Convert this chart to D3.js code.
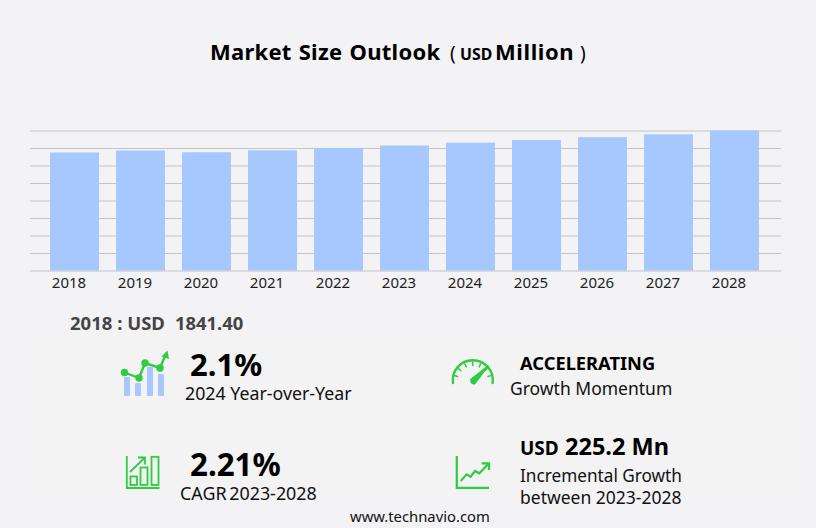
<!DOCTYPE html>
<html>

<head>
    <meta charset="UTF-8">
    <title>Market Size Outlook</title>
    <script src="https://cdn.jsdelivr.net/npm/d3@7"></script>
    <style>
        html, body { margin: 0; padding: 0; background: #f3f3f5; }
        svg { display: block; font-family: "Noto Sans", sans-serif; }
    </style>
</head>

<body>
    <script>
        const years = ['2018', '2019', '2020', '2021', '2022', '2023', '2024', '2025', '2026', '2027', '2028'];
        const marketSize = [1841.4, 1873, 1845, 1875, 1912, 1950, 1995, 2035, 2080, 2125, 2184];
        const gridTicks = [0, 273, 546, 819, 1092, 1365, 1638, 1911, 2184];

        const width = 816;
        const height = 528;
        const green = '#2ecc40';

        const svg = d3.select('body')
            .append('svg')
            .attr('width', width)
            .attr('height', height);

        const x = d3.scaleBand()
            .domain(years)
            .range([41.5, 767.5])
            .paddingInner(0.258)
            .paddingOuter(0.129);

        const y = d3.scaleLinear()
            .domain([0, 2184])
            .range([270.5, 130.5]);

        // gridlines
        const grid = svg.append('g')
            .attr('transform', 'translate(30,0)')
            .call(d3.axisLeft(y).tickValues(gridTicks).tickSize(-751).tickFormat(''));
        grid.select('.domain').remove();
        grid.selectAll('line').attr('stroke', '#c4c4c6').attr('stroke-width', 1);

        svg.append('g')
            .selectAll('rect')
            .data(years)
            .join('rect')
            .attr('x', d => x(d))
            .attr('y', (d, i) => y(marketSize[i]))
            .attr('width', x.bandwidth())
            .attr('height', (d, i) => y(0) - y(marketSize[i]))
            .attr('fill', '#a6c8ff');

        // year labels sit a little left of the bar centres
        const xAxis = svg.append('g')
            .attr('transform', 'translate(-5.5,270.5)')
            .call(d3.axisBottom(x).tickSize(0).tickPadding(7));
        xAxis.select('.domain').remove();
        xAxis.selectAll('text')
            .attr('font-family', '"Noto Sans", sans-serif')
            .attr('font-size', 15)
            .attr('fill', '#222');

        function label(txt, px, py, size, weight, fill, anchor) {
            return svg.append('text')
                .attr('x', px)
                .attr('y', py)
                .attr('font-size', size)
                .attr('font-weight', weight || 400)
                .attr('fill', fill || '#111')
                .attr('text-anchor', anchor || 'start')
                .text(txt);
        }

        // title
        label('Market Size Outlook', 210, 60, 22, 700, '#000').attr('letter-spacing', 0.25).attr('word-spacing', 1.2);
        label('(', 450, 60, 19, 400, '#000');
        label('USD', 460, 60, 15.8, 700, '#000');
        label('Million', 495, 60, 22, 700, '#000').attr('letter-spacing', 0.6);
        label(')', 580, 60, 19, 400, '#000');

        // lower panel
        svg.insert('rect', ':first-child')
            .attr('x', 30).attr('y', 330).attr('width', 762).attr('height', 165)
            .attr('fill', '#f3f3f3');

        label('2018 : USD', 70, 330, 18.5, 700, '#444');
        label('1841.40', 175, 330, 18.4, 700, '#444');

        label('2.1%', 190, 376, 31, 700, '#000');
        label('2024 Year-over-Year', 185, 400, 17.8);
        label('ACCELERATING', 520, 370, 18.3, 700, '#000');
        label('Growth Momentum', 510, 395, 17.5);
        label('2.21%', 190, 476, 31.3, 700, '#000');
        label('CAGR 2023-2028', 180, 500, 17.9).attr('word-spacing', -2);
        label('USD', 520, 455, 19, 700, '#000');
        label('225.2 Mn', 565, 455, 23.5, 700, '#000');
        label('Incremental Growth', 520, 482, 17.2);
        label('between 2023-2028', 520, 504, 17.5);
        label('www.technavio.com', 350, 522, 14.8, 400, '#111');

        // icon 1: small bars with a trend line
        const icon1 = svg.append('g');
        const miniBars = [[124, 377, 19], [135, 383, 13], [147, 367, 29], [158, 374, 22]];
        icon1.selectAll('rect').data(miniBars).join('rect')
            .attr('x', d => d[0]).attr('y', d => d[1])
            .attr('width', 6).attr('height', d => d[2])
            .attr('rx', 1).attr('fill', '#a6c8ff');
        const trend = [[124.5, 372.5], [139, 378], [145, 363], [160, 368], [165, 356]];
        icon1.append('path')
            .attr('d', d3.line()(trend))
            .attr('fill', 'none').attr('stroke', green).attr('stroke-width', 2.4);
        icon1.selectAll('circle').data(trend.slice(0, 4)).join('circle')
            .attr('cx', d => d[0]).attr('cy', d => d[1]).attr('r', 3.7).attr('fill', green);
        icon1.append('path').attr('d', 'M161.5,356.5 L167.5,350.5 L169,359 Z').attr('fill', green);

        // icon 2: gauge
        const icon2 = svg.append('g').attr('fill', 'none').attr('stroke', green).attr('stroke-linecap', 'round');
        icon2.append('path')
            .attr('d', 'M453,383 A20,20 0 1 1 492.6,383')
            .attr('stroke-width', 2.4);
        d3.range(7).forEach(i => {
            const a = Math.PI * (1.1 + i * 0.133);
            const cx = 472.8, cy = 381.5;
            icon2.append('line')
                .attr('x1', cx + 19.5 * Math.cos(a)).attr('y1', cy + 19.5 * Math.sin(a))
                .attr('x2', cx + 16 * Math.cos(a)).attr('y2', cy + 16 * Math.sin(a))
                .attr('stroke-width', 1.5);
        });
        icon2.append('path')
            .attr('d', 'M470.8,379.5 L488.4,365.6 L475,383.5 Q471,385 470.8,379.5 Z')
            .attr('fill', green)
            .attr('stroke-width', 1.4);

        // icon 3: bars with arrow
        const icon3 = svg.append('g').attr('fill', 'none').attr('stroke', green).attr('stroke-width', 1.8);
        icon3.append('path').attr('d', 'M126.8,456 V488 H159.5');
        icon3.append('rect').attr('x', 130.5).attr('y', 476.5).attr('width', 6.5).attr('height', 8.5);
        icon3.append('rect').attr('x', 140.5).attr('y', 467.5).attr('width', 7).attr('height', 17.5);
        icon3.append('rect').attr('x', 151.5).attr('y', 456.8).attr('width', 7).attr('height', 28.2);
        icon3.append('path').attr('d', 'M130,472 L144.5,458 M138,457.5 H145 V464.5');

        // icon 4: line chart with arrow
        const icon4 = svg.append('g').attr('fill', 'none').attr('stroke', green).attr('stroke-width', 2.2);
        icon4.append('path').attr('d', 'M456.8,456 V487.8 H489');
        icon4.append('path').attr('d', 'M460.7,481 L466.7,474.3 L470.7,476.7 L475,471 L479.3,473.3 L488.3,464');
        icon4.append('path').attr('d', 'M481.7,463.3 H489 V470');
    </script>
</body>

</html>
